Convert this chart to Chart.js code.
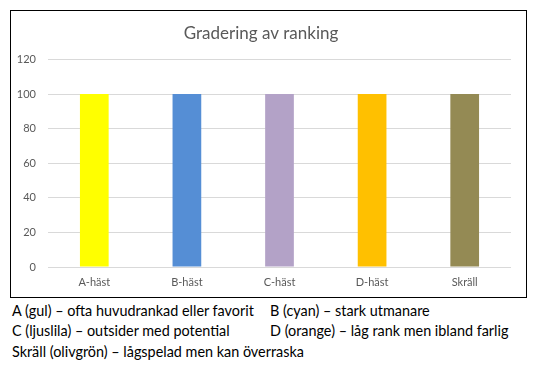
<!DOCTYPE html>
<html>
<head>
<meta charset="utf-8">
<script src="https://cdn.jsdelivr.net/npm/chart.js@4"></script>
<style>
  body { margin: 0; background: #fff; width: 537px; height: 367px; overflow: hidden; position: relative; }
  #box { position: absolute; left: 10px; top: 10px; width: 515px; height: 286px; border: 1px solid #000; }
  .note { position: absolute; font-family: Lato, "Open Sans", sans-serif; font-size: 14.4px; color: #000; white-space: nowrap; }
</style>
</head>
<body>
<div id="box"><canvas id="rankChart" width="515" height="286"></canvas></div>
<div class="note" style="left:12px;top:302px">A (gul) – ofta huvudrankad eller favorit</div>
<div class="note" style="left:270px;top:302px">B (cyan) – stark utmanare</div>
<div class="note" style="left:12px;top:322px">C (ljuslila) – outsider med potential</div>
<div class="note" style="left:270px;top:322px">D (orange) – låg rank men ibland farlig</div>
<div class="note" style="left:12px;top:343px">Skräll (olivgrön) – lågspelad men kan överraska</div>
<script>
const horses = ["A-häst", "B-häst", "C-häst", "D-häst", "Skräll"];
const rankValues = [100, 100, 100, 100, 100];
const barColors = ["#FFFF00", "#558ED5", "#B3A2C7", "#FFC000", "#948A54"];
const yTicks = [0, 20, 40, 60, 80, 100, 120];

const ctx = document.getElementById("rankChart").getContext("2d");
const rankChart = new Chart(ctx, {
  type: "bar",
  data: {
    labels: horses,
    datasets: [
      {
        label: "Gradering",
        data: rankValues,
        backgroundColor: barColors,
        barPercentage: 0.31,
        categoryPercentage: 1,
      },
    ],
  },
  options: {
    responsive: false,
    animation: false,
    layout: { padding: { left: 0, right: 15, top: 0, bottom: 8 } },
    plugins: {
      legend: { display: false },
      tooltip: { enabled: false },
      title: {
        display: true,
        text: "Gradering av ranking",
        color: "#595959",
        font: { family: "Lato, 'Open Sans', sans-serif", size: 17, weight: "normal" },
        padding: { top: 12, bottom: 16 },
      },
    },
    scales: {
      x: {
        grid: { display: false, drawTicks: false },
        border: { display: false },
        ticks: { color: "#595959", font: { family: "Lato, sans-serif", size: 11 }, padding: 9 },
        afterFit: (scale) => { scale.height = 22; },
      },
      y: {
        min: 0,
        max: 120,
        afterBuildTicks: (scale) => { scale.ticks = yTicks.map((v) => ({ value: v })); },
        grid: { color: "#d9d9d9", drawTicks: false },
        border: { display: false },
        ticks: { color: "#595959", font: { family: "Lato, sans-serif", size: 11 }, padding: 12 },
        afterFit: (scale) => { scale.width = 37; },
      },
    },
  },
});
</script>
</body>
</html>
